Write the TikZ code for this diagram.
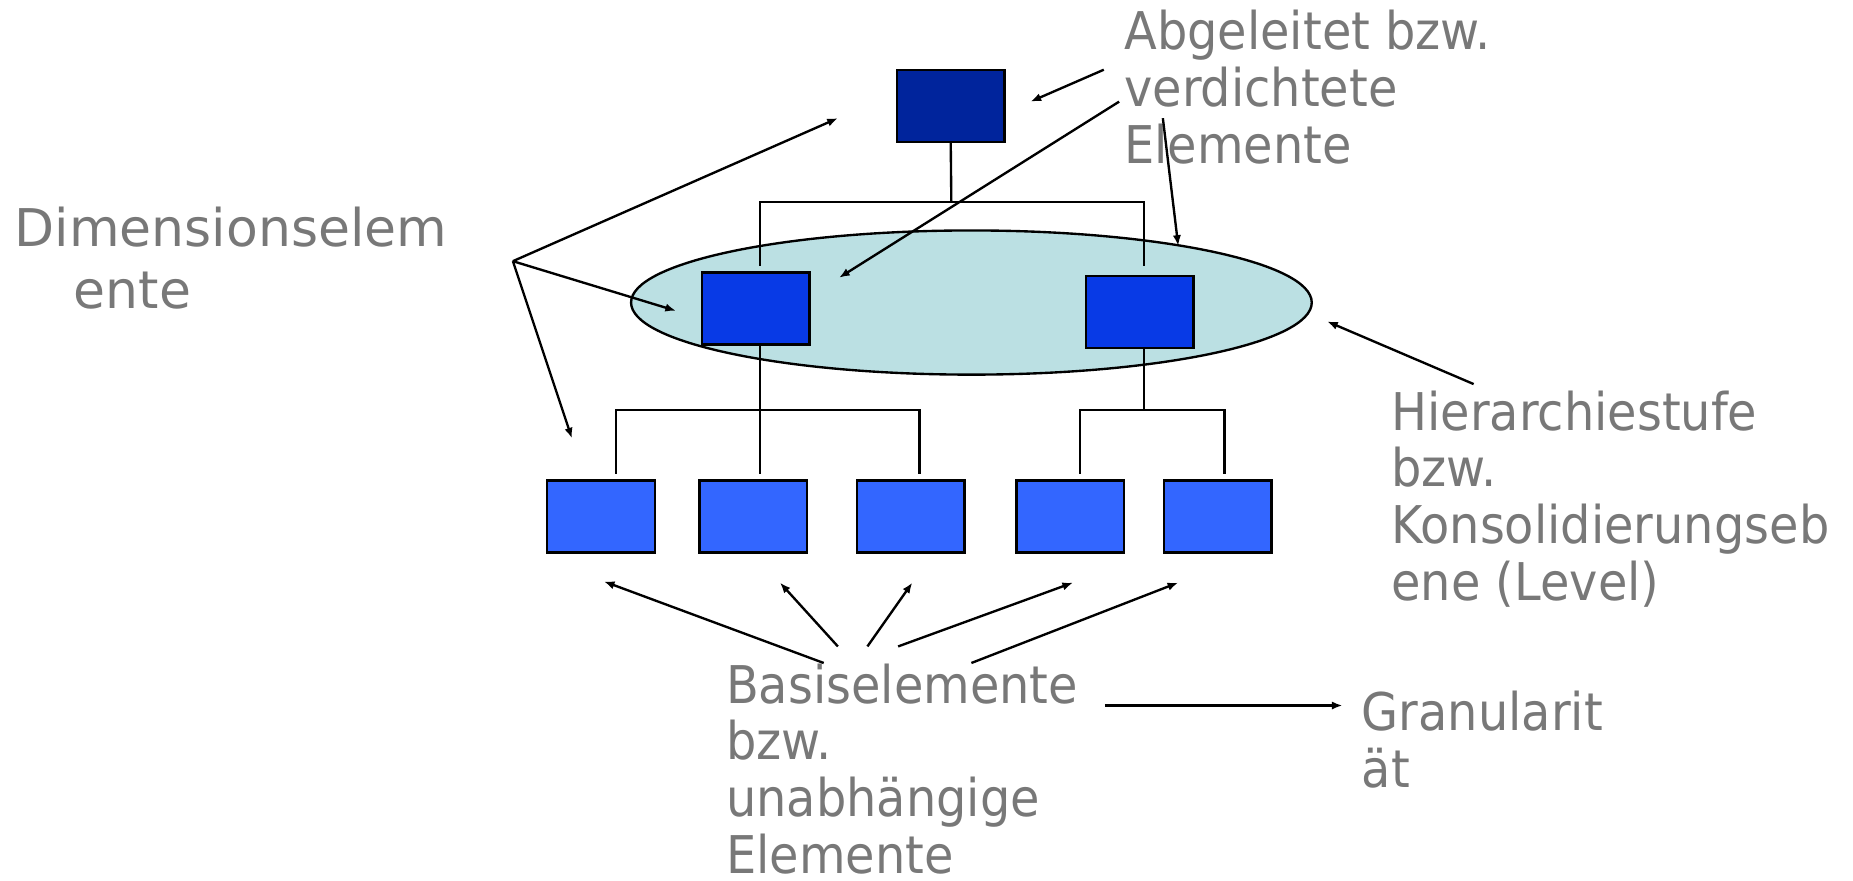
\documentclass[tikz,border=0pt]{standalone}
\usepackage{fontspec}
\setmainfont{DejaVu Sans}
\newfontfamily\narrowfont[FakeStretch=0.92]{DejaVu Sans}
\usetikzlibrary{arrows.meta,shapes.geometric}
\definecolor{topblue}{RGB}{0,36,156}
\definecolor{midblue}{RGB}{8,58,230}
\definecolor{basblue}{RGB}{51,102,255}
\definecolor{lvl}{RGB}{187,224,227}
\definecolor{txt}{RGB}{120,120,120}
\tikzset{
  elem/.style={draw=black, line width=1pt, minimum width=45.5pt, minimum height=30.5pt, inner sep=0pt},
  tree/.style={line width=1pt},
  ptr/.style={line width=1pt, -{Latex[length=4.5pt,width=3.5pt]}},
  lbl/.style={text=txt, font=\narrowfont\fontsize{22}{24}\selectfont, align=left, anchor=base west, inner sep=0pt},
}
\begin{document}
\begin{tikzpicture}[x=0.5pt,y=-0.5pt]
\useasboundingbox (0,0) rectangle (1568,745);
% level ellipse
\node[ellipse, draw=black, fill=lvl, line width=1pt, minimum width=288pt, minimum height=61pt, inner sep=0pt] (lv) at (822,256) {};
% element boxes
\node[elem, fill=topblue] (top) at (804.5,89.5) {};
\node[elem, fill=midblue] (ml) at (639.5,261) {};
\node[elem, fill=midblue] (mr) at (964.5,264) {};
\node[elem, fill=basblue] (b1) at (508.5,437) {};
\node[elem, fill=basblue] (b2) at (637.5,437) {};
\node[elem, fill=basblue] (b3) at (770.5,437) {};
\node[elem, fill=basblue] (b4) at (905.5,437) {};
\node[elem, fill=basblue] (b5) at (1030.5,437) {};
% tree lines
\coordinate (j0) at (805,171);
\draw[tree] (top.south) -- (j0);
\draw[tree] (643,225) -- (643,171) -- (968,171) -- (968,225);
\draw[tree] (643,292) -- (643,401);
\draw[tree] (521,401) -- (521,347) -- (778,347) -- (778,401);
\draw[tree] (968,295) -- (968,347);
\draw[tree] (914,401) -- (914,347) -- (1036,347) -- (1036,401);
% labels (anchor = baseline of last line)
\node[lbl, font=\fontsize{22}{26}\selectfont] (dim) at (12,261) {Dimensionselem\\\hspace*{25pt}ente};
\node[lbl] (abg) at (951,138) {Abgeleitet bzw.\\verdichtete\\Elemente};
\node[lbl] (hier) at (1177,508) {Hierarchiestufe\\bzw.\\Konsolidierungseb\\ene (Level)};
\node[lbl, text depth=0pt] (bas) at (614,739) {Basiselemente\\bzw.\\unabhängige\\Elemente};
\node[lbl] (gran) at (1152,666) {Granularit\\ät};
% pointer arrows
\coordinate (d0) at (434,221);
\draw[ptr] (d0) -- (709,100);
\draw[ptr] (d0) -- (572,263);
\draw[ptr] (d0) -- (484,371);
\draw[ptr] (934,59) -- (872,86);
\draw[ptr] (947,86) -- (710,235);
\draw[ptr] (984,100) -- (997,208);
\draw[ptr] (1247,325) -- (1123,272);
\draw[ptr] (697,561) -- (511,492);
\draw[ptr] (709,547) -- (660,493);
\draw[ptr] (734,547) -- (772,493);
\draw[ptr] (760,547) -- (908,493);
\draw[ptr] (822,561) -- (997,493);
\draw[ptr] (935,597) -- (1136,597);
\end{tikzpicture}
\end{document}
